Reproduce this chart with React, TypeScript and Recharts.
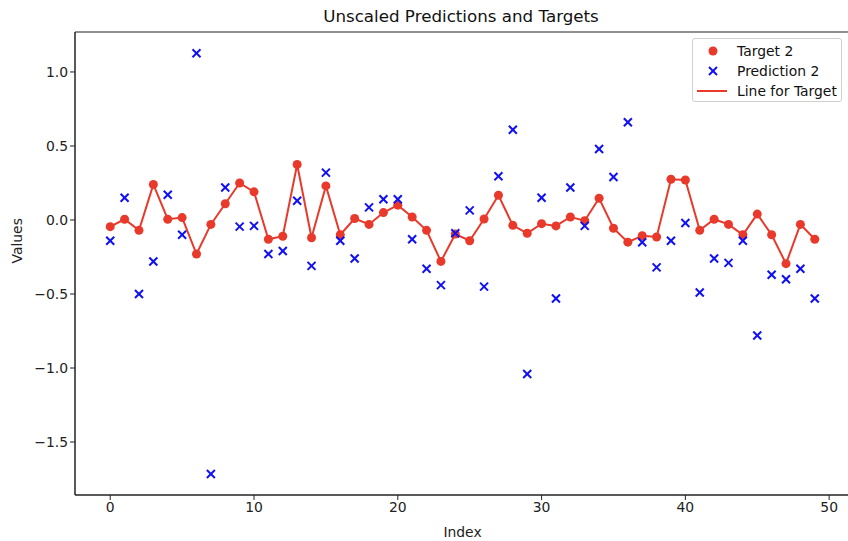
import { ComposedChart, Line, Scatter, XAxis, YAxis, ReferenceArea } from 'recharts';

const indexes = Array.from({ length: 50 }, (_, i) => i);
const target = [
  -0.045, 0.005, -0.07, 0.24, 0.005, 0.016, -0.23, -0.03, 0.11, 0.25,
  0.19, -0.13, -0.11, 0.375, -0.12, 0.23, -0.1, 0.01, -0.03, 0.05,
  0.1, 0.02, -0.07, -0.28, -0.095, -0.14, 0.007, 0.167, -0.036, -0.09,
  -0.025, -0.04, 0.02, -0.005, 0.147, -0.056, -0.15, -0.106, -0.115, 0.275,
  0.27, -0.07, 0.005, -0.03, -0.1, 0.04, -0.1, -0.295, -0.03, -0.13,
];
const prediction = [
  -0.14, 0.15, -0.5, -0.28, 0.17, -0.1, 1.126, -1.716, 0.22, -0.045,
  -0.04, -0.23, -0.21, 0.13, -0.31, 0.32, -0.14, -0.26, 0.085, 0.14,
  0.14, -0.13, -0.33, -0.44, -0.09, 0.065, -0.45, 0.295, 0.61, -1.04,
  0.15, -0.53, 0.22, -0.04, 0.48, 0.29, 0.66, -0.15, -0.32, -0.14,
  -0.02, -0.49, -0.26, -0.29, -0.14, -0.78, -0.37, -0.4, -0.33, -0.53,
];
const xTicks = [0, 10, 20, 30, 40, 50];
const yTicks = [-1.5, -1.0, -0.5, 0.0, 0.5, 1.0];

const RED = '#e8392b';
const BLUE = '#1010f0';
const FONT = 'DejaVu Sans';
const FS = 13.9;
const X_DOMAIN = [-2.45, 51.45];
const Y_DOMAIN = [-1.858, 1.27];

const rows = indexes.map((i) => ({ index: i, target: target[i], prediction: prediction[i] }));

function Cross(props: any) {
  const { cx, cy } = props;
  const s = 4;
  return (
    <g stroke={BLUE} strokeWidth={2}>
      <line x1={cx - s} y1={cy - s} x2={cx + s} y2={cy + s} />
      <line x1={cx - s} y1={cy + s} x2={cx + s} y2={cy - s} />
    </g>
  );
}

const fmtY = (v: number) => v.toFixed(1).replace('-', '\u2212');

export default function App() {
  return (
    <div style={{ position: 'absolute', left: 0, top: 0, width: 848, height: 541, overflow: 'hidden', fontFamily: FONT, background: '#fff' }}>
      <div style={{ position: 'absolute', left: 75, width: 772, top: 6, textAlign: 'center', fontSize: 16.7, color: '#111' }}>
        Unscaled Predictions and Targets
      </div>
      <ComposedChart width={851} height={541} data={rows} margin={{ top: 32, right: 1, bottom: 0, left: 0 }}>
        <XAxis
          dataKey="index"
          type="number"
          domain={X_DOMAIN}
          ticks={xTicks}
          allowDataOverflow
          tickSize={5}
          height={46}
          stroke="#222"
          tick={{ fill: '#222', fontSize: FS, fontFamily: FONT }}
          label={{ value: 'Index', position: 'insideBottom', offset: 4, fill: '#222', fontSize: FS, fontFamily: FONT }}
        />
        <YAxis
          type="number"
          domain={Y_DOMAIN}
          ticks={yTicks}
          allowDataOverflow
          tickSize={5}
          width={75}
          stroke="#222"
          tickFormatter={fmtY}
          tick={{ fill: '#222', fontSize: FS, fontFamily: FONT }}
          label={{ value: 'Values', angle: -90, position: 'insideLeft', offset: 17, fill: '#222', fontSize: FS, fontFamily: FONT }}
        />
        <ReferenceArea x1={X_DOMAIN[0]} x2={X_DOMAIN[1]} y1={Y_DOMAIN[0]} y2={Y_DOMAIN[1]} fill="none" stroke="#222" strokeWidth={1} />
        <Line
          dataKey="target"
          stroke={RED}
          strokeWidth={2}
          dot={{ r: 4.5, fill: RED, stroke: RED, strokeWidth: 0 }}
          isAnimationActive={false}
        />
        <Scatter dataKey="prediction" shape={<Cross />} isAnimationActive={false} />
      </ComposedChart>
      <div
        style={{
          position: 'absolute',
          left: 692,
          top: 38,
          width: 150,
          height: 64,
          border: '1px solid #d0d0d0',
          borderRadius: 3,
          background: 'rgba(255,255,255,0.8)',
          fontSize: FS,
          color: '#111',
          boxSizing: 'border-box',
        }}
      >
        {[
          { label: 'Target 2', kind: 'dot', y: 12 },
          { label: 'Prediction 2', kind: 'x', y: 32 },
          { label: 'Line for Target', kind: 'line', y: 52 },
        ].map((it) => (
          <div key={it.label} style={{ position: 'absolute', left: 0, top: it.y - 9, height: 18, width: 150 }}>
            <svg width={40} height={18} style={{ position: 'absolute', left: 0, top: 0 }}>
              {it.kind === 'dot' && <circle cx={20} cy={9} r={4.5} fill={RED} />}
              {it.kind === 'x' && (
                <g stroke={BLUE} strokeWidth={2}>
                  <line x1={16} y1={5} x2={24} y2={13} />
                  <line x1={16} y1={13} x2={24} y2={5} />
                </g>
              )}
              {it.kind === 'line' && <line x1={4} y1={9} x2={34} y2={9} stroke={RED} strokeWidth={2} />}
            </svg>
            <span style={{ position: 'absolute', left: 44, top: 0, lineHeight: '18px', whiteSpace: 'nowrap' }}>{it.label}</span>
          </div>
        ))}
      </div>
    </div>
  );
}
